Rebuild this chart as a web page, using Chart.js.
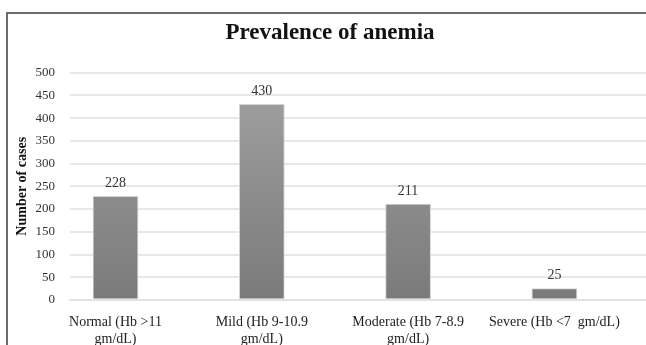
<!DOCTYPE html>
<html>
<head>
<meta charset="utf-8">
<script src="https://cdn.jsdelivr.net/npm/chart.js@4/dist/chart.umd.min.js"></script>
<style>
  html, body { margin: 0; padding: 0; background: #fff; overflow: hidden; }
  #wrap { position: relative; width: 646px; height: 345px; }
  #frame { position: absolute; left: 6px; top: 12px; width: 700px; height: 400px;
           border-left: 2px solid #6b6b6b; border-top: 2px solid #6b6b6b; }
  #myChart { position: absolute; left: 0; top: 0; }
</style>
</head>
<body>
<div id="wrap">
  <div id="frame"></div>
  <canvas id="myChart" width="646" height="345"></canvas>
</div>
<script>
// chart data
var categories = [
    ["Normal (Hb >11", "gm/dL)"],
    ["Mild (Hb 9-10.9", "gm/dL)"],
    ["Moderate (Hb 7-8.9", "gm/dL)"],
    ["Severe (Hb <7  gm/dL)"]
];
var cases = [228, 430, 211, 25];
var yTicks = [0, 50, 100, 150, 200, 250, 300, 350, 400, 450, 500];

var serif = "'Liberation Serif', 'DejaVu Serif', serif";

// value labels above the bars
var barLabels = {
    id: "barLabels",
    afterDatasetsDraw: function (chart) {
        var ctx = chart.ctx;
        var meta = chart.getDatasetMeta(0);
        ctx.save();
        ctx.font = "14px " + serif;
        ctx.fillStyle = "#333";
        ctx.textAlign = "center";
        ctx.textBaseline = "bottom";
        meta.data.forEach(function (bar, i) {
            ctx.fillText(String(cases[i]), bar.x, bar.y - 6);
        });
        ctx.restore();
    }
};

function barFill(context) {
    var chart = context.chart;
    var area = chart.chartArea;
    if (!area) return "#8c8c8c";
    var g = chart.ctx.createLinearGradient(0, area.top, 0, area.bottom);
    g.addColorStop(0, "#a2a2a2");
    g.addColorStop(1, "#7a7a7a");
    return g;
}

var ctx = document.getElementById("myChart").getContext("2d");
var chart = new Chart(ctx, {
    type: "bar",
    data: {
        datasets: [{
            label: "Number of cases",
            data: cases.map(function (v, i) { return { x: i, y: v }; }),
            backgroundColor: barFill,
            borderColor: "#d4d4d4",
            borderWidth: 1,
            borderSkipped: false,
            barThickness: 45
        }]
    },
    options: {
        responsive: false,
        animation: false,
        layout: { padding: { left: 14, right: 0, top: 0, bottom: 0 } },
        plugins: {
            legend: { display: false },
            tooltip: { enabled: false },
            title: {
                display: true,
                text: "Prevalence of anemia",
                color: "#111",
                font: { family: serif, size: 23, weight: "bold" },
                padding: { top: 19, bottom: 26 }
            }
        },
        scales: {
            x: {
                type: "linear",
                offset: false,
                min: -0.311,
                max: 3.626,
                grid: { display: false, drawTicks: false, offset: false },
                border: { display: true, color: "#dfe3ea", width: 2 },
                afterFit: function (scale) { scale.height = 45; },
                afterBuildTicks: function (scale) {
                    scale.ticks = categories.map(function (c, i) { return { value: i }; });
                },
                ticks: {
                    autoSkip: false,
                    maxRotation: 0,
                    padding: 14,
                    color: "#222",
                    font: { family: serif, size: 14, lineHeight: 1.2 },
                    callback: function (value) { return categories[value]; }
                }
            },
            y: {
                min: 0,
                max: 500,
                afterFit: function (scale) { scale.width = 56; },
                afterBuildTicks: function (scale) {
                    scale.ticks = yTicks.map(function (t) { return { value: t }; });
                },
                grid: { color: "#e3e7ee", lineWidth: 2, drawTicks: false },
                border: { display: false },
                ticks: {
                    padding: 15,
                    color: "#333",
                    font: { family: serif, size: 13 }
                },
                title: {
                    display: true,
                    text: "Number of cases",
                    color: "#111",
                    font: { family: serif, size: 14, weight: "bold" },
                    padding: 0
                }
            }
        }
    },
    plugins: [barLabels]
});
</script>
</body>
</html>
